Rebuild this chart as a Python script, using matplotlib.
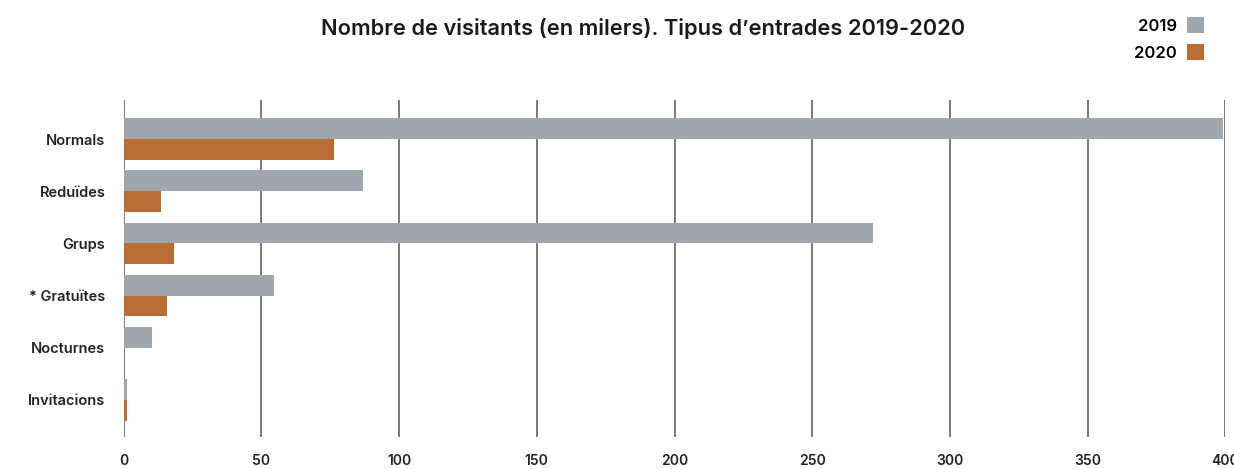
import numpy as np
import matplotlib.pyplot as plt

# data (thousands of visitors)
categories = ["Normals", "Reduïdes", "Grups", "* Gratuïtes", "Nocturnes", "Invitacions"]
vals_2019 = [399, 87, 272, 54.5, 10.2, 1.1]
vals_2020 = [76.3, 13.5, 18.4, 15.7, 0, 1.1]
years = ["2019", "2020"]
xticks = [0, 50, 100, 150, 200, 250, 300, 350, 400]

GREY = "#a0a6ad"
ORANGE = "#b76d33"

plt.rcParams["font.family"] = ["Inter", "DejaVu Sans"]

fig = plt.figure(figsize=(12.34, 4.69), dpi=100)
ax = fig.add_axes([0.1001, 0.0682, 0.8930, 0.7186])

y = np.arange(len(categories))
h = 0.4
ax.barh(y - h / 2, vals_2019, height=h, color=GREY, label=years[0])
ax.barh(y + h / 2, vals_2020, height=h, color=ORANGE, label=years[1])

ax.set_xlim(0, 400)
ax.set_ylim(len(categories) - 0.29, -0.75)
ax.set_xticks(xticks)
ax.set_yticks(y)
ax.set_yticklabels(categories)
ax.tick_params(axis="both", length=0)
ax.tick_params(axis="y", pad=13, labelsize=10.5)
ax.tick_params(axis="x", pad=12, labelsize=10)
for lbl in ax.get_xticklabels() + ax.get_yticklabels():
    lbl.set_fontweight("semibold")
    lbl.set_color("#222222")

ax.set_axisbelow(True)
ax.grid(axis="x", color="#555555", linewidth=1.1)
ax.grid(axis="y", visible=False)
for s in ax.spines.values():
    s.set_visible(False)

fig.text(0.521, 0.94, "Nombre de visitants (en milers). Tipus d\u2019entrades 2019-2020",
         ha="center", va="center", fontsize=15.7, fontweight="semibold", color="#1a1a1a")

leg = fig.legend(loc="upper right", bbox_to_anchor=(0.988, 0.995), frameon=False,
                 markerfirst=False, fontsize=12, handlelength=1.05, handleheight=1.05,
                 handletextpad=0.6, labelspacing=0.62)
for t in leg.get_texts():
    t.set_fontweight("semibold")

fig.savefig("out.png", dpi=100)
